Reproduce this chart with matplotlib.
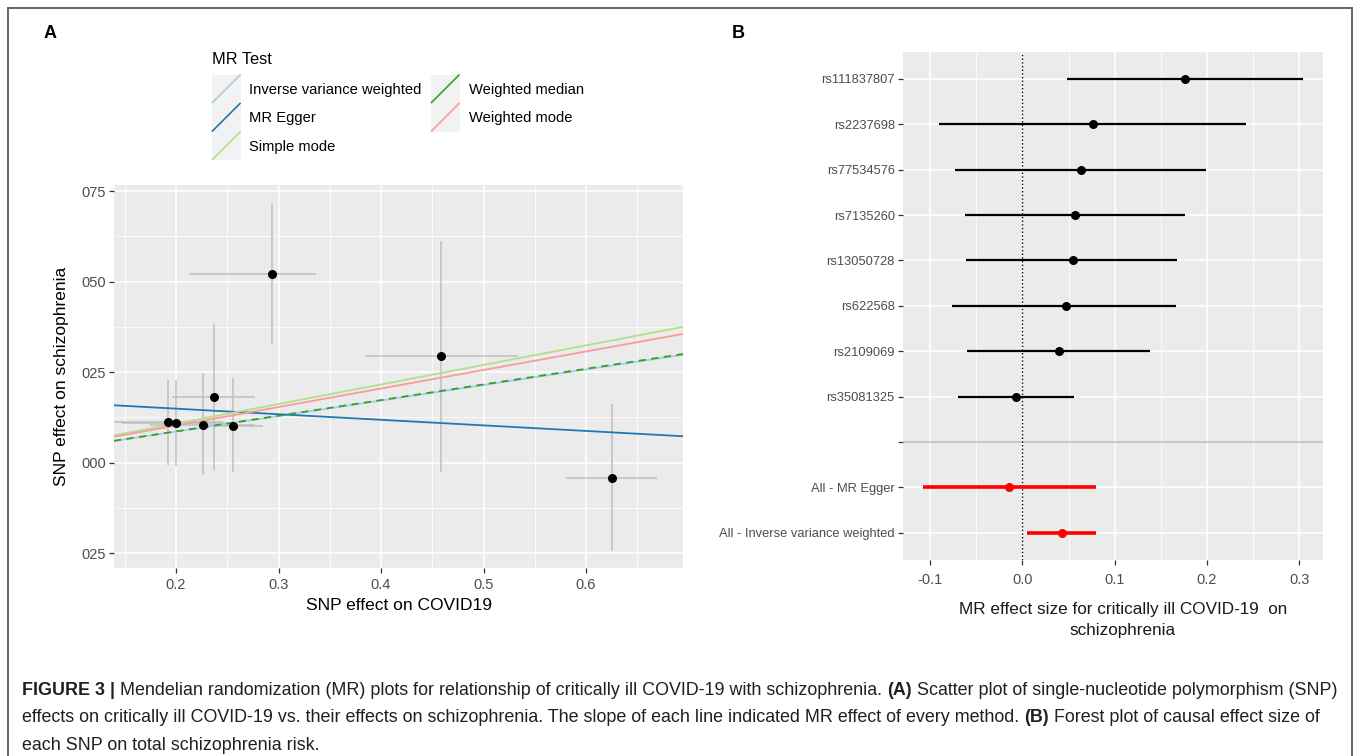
import numpy as np
import matplotlib
matplotlib.use("Agg")
import matplotlib.pyplot as plt
from matplotlib.patches import Rectangle
from matplotlib.ticker import MultipleLocator, FixedLocator

plt.rcParams['font.family'] = ['Liberation Sans', 'DejaVu Sans']

# ---- panel A: SNP effects ----
snp_x = [0.1925, 0.1997, 0.2263, 0.2371, 0.2559, 0.2940, 0.4588, 0.6257]
snp_y = [0.0111, 0.0109, 0.0104, 0.0182, 0.0100, 0.0520, 0.0294, -0.0042]
snp_x_lo = [0.139, 0.147, 0.175, 0.196, 0.227, 0.2128, 0.384, 0.580]
snp_x_hi = [0.246, 0.252, 0.277, 0.2766, 0.2846, 0.3363, 0.5337, 0.6696]
snp_y_lo = [-0.0006, -0.0008, -0.0033, -0.0019, -0.0027, 0.0329, -0.0027, -0.0243]
snp_y_hi = [0.0227, 0.0227, 0.0248, 0.0383, 0.0235, 0.0715, 0.0613, 0.0162]

methods = ['Inverse variance weighted', 'MR Egger', 'Simple mode',
           'Weighted median', 'Weighted mode']
method_slope = [0.0429, -0.0154, 0.0540, 0.0432, 0.0512]
method_icept = [0.0, 0.0180, 0.0, 0.0, 0.0]
method_col = ['#A6CEE3', '#1F78B4', '#B2DF8A', '#33A02C', '#FB9A99']

# ---- panel B: forest plot ----
snp_names = ['rs111837807', 'rs2237698', 'rs77534576', 'rs7135260',
             'rs13050728', 'rs622568', 'rs2109069', 'rs35081325']
snp_b = [0.1765, 0.0764, 0.0635, 0.0571, 0.0545, 0.0468, 0.0400, -0.0070]
snp_lo = [0.048, -0.090, -0.073, -0.062, -0.061, -0.076, -0.060, -0.070]
snp_hi = [0.304, 0.242, 0.199, 0.176, 0.168, 0.167, 0.138, 0.056]

all_names = ['All - MR Egger', 'All - Inverse variance weighted']
all_b = [-0.0146, 0.0429]
all_lo = [-0.108, 0.0047]
all_hi = [0.0794, 0.0794]

W, H = 1357, 756
fig = plt.figure(figsize=(W / 100, H / 100), dpi=100)


def px_axes(l, t, r, b):
    return fig.add_axes([l / W, 1 - b / H, (r - l) / W, (b - t) / H])


def gg_style(ax):
    ax.set_facecolor('#EBEBEB')
    for s in ax.spines.values():
        s.set_visible(False)
    ax.grid(which='major', color='white', lw=1.1)
    ax.grid(which='minor', color='white', lw=0.55)
    ax.set_axisbelow(True)
    ax.tick_params(which='major', length=3.5, width=0.9, color='#333333',
                   labelcolor='#4D4D4D', labelsize=10.5, pad=2)
    ax.tick_params(axis='x', which='major', pad=4)
    ax.tick_params(which='minor', length=0)


# ---------------- panel A ----------------
axA = px_axes(114, 185, 683, 568)
gg_style(axA)
axA.vlines(snp_x, snp_y_lo, snp_y_hi, color='#BEBEBE', lw=1.1, zorder=2)
axA.hlines(snp_y, snp_x_lo, snp_x_hi, color='#BEBEBE', lw=1.1, zorder=2)
axA.scatter(snp_x, snp_y, s=30, color='black', zorder=6)
for i, m in enumerate(methods):
    ls = (0, (4, 3)) if m == 'Weighted median' else '-'
    axA.axline((0, method_icept[i]), slope=method_slope[i], color=method_col[i],
               lw=1.3, ls=ls, zorder=3)

axA.set_xlim(0.1395, 0.6946)
axA.set_ylim(-0.0291, 0.0767)
axA.xaxis.set_major_locator(FixedLocator([0.2, 0.3, 0.4, 0.5, 0.6]))
axA.xaxis.set_minor_locator(MultipleLocator(0.05))
axA.set_xticklabels(['0.2', '0.3', '0.4', '0.5', '0.6'])
axA.yaxis.set_major_locator(FixedLocator([-0.025, 0.0, 0.025, 0.05, 0.075]))
axA.yaxis.set_minor_locator(MultipleLocator(0.0125))
axA.set_yticklabels(['025', '000', '025', '050', '075'])
axA.set_xlabel('SNP effect on COVID19', fontsize=12.5, labelpad=4)
axA.set_ylabel('SNP effect on schizophrenia', fontsize=12.5, labelpad=9)

# ---------------- panel B ----------------
axB = px_axes(902.5, 51.7, 1323, 560)
gg_style(axB)
labels = snp_names + [''] + all_names
n = len(labels)
ypos = np.arange(n)[::-1]
y_snp = ypos[:len(snp_names)]
y_blank = ypos[len(snp_names)]
y_all = ypos[len(snp_names) + 1:]

axB.axvline(0, color='black', ls=':', lw=1.0, zorder=2)
axB.axhline(y_blank, color='#BEBEBE', lw=1.2, zorder=1)
axB.hlines(y_snp, snp_lo, snp_hi, color='black', lw=1.6, zorder=3)
axB.scatter(snp_b, y_snp, s=30, color='black', zorder=4)
axB.hlines(y_all, all_lo, all_hi, color='red', lw=2.6, zorder=3)
axB.scatter(all_b, y_all, s=30, color='red', zorder=4)

axB.set_xlim(-0.130, 0.3258)
axB.set_ylim(-0.6, n - 1 + 0.6)
axB.xaxis.set_major_locator(FixedLocator([-0.1, 0.0, 0.1, 0.2, 0.3]))
axB.xaxis.set_minor_locator(MultipleLocator(0.05))
axB.set_xticklabels(['-0.1', '0.0', '0.1', '0.2', '0.3'])
axB.tick_params(axis='x', which='major', pad=6)
axB.set_yticks(ypos)
axB.set_yticklabels(labels, fontsize=9.3)

# ---------------- overlay (frame, letters, legend, caption) ----------------
ov = fig.add_axes([0, 0, 1, 1])
ov.set_xlim(0, W)
ov.set_ylim(H, 0)
ov.axis('off')

ov.plot([8, 8], [8, H], color='#666666', lw=1.4)
ov.plot([8, 1352], [8, 8], color='#666666', lw=1.4)
ov.plot([1352, 1352], [8, H], color='#666666', lw=1.4)

ov.text(50, 33, 'A', fontsize=13, fontweight='bold', ha='center', va='center')
ov.text(738, 33, 'B', fontsize=13, fontweight='bold', ha='center', va='center')

ov.text(1123, 620, 'MR effect size for critically ill COVID-19  on\nschizophrenia',
        fontsize=12.3, ha='center', va='center', linespacing=1.5, color='#1A1A1A')

# legend
ov.text(212, 60, 'MR Test', fontsize=11.8, ha='left', va='center')
key = 28.5
for i, m in enumerate(methods):
    col, row = (0, i) if i < 3 else (1, i - 3)
    kx = [212, 431][col]
    ky = 74.5 + key * row
    ov.add_patch(Rectangle((kx, ky), key, key, fc='#F2F2F2', ec='none'))
    ov.plot([kx + 0.5, kx + key - 0.5], [ky + key - 0.5, ky + 0.5],
            color=method_col[i], lw=1.2)
    ov.text([249, 469][col], ky + key / 2 + 1, m, fontsize=10.6, ha='left', va='center')

# caption with bold pieces
renderer = fig.canvas.get_renderer()
cap_size = 12.9


def text_w(s, bold):
    t = ov.text(0, 0, s, fontsize=cap_size, fontweight='bold' if bold else 'normal')
    w = t.get_window_extent(renderer).width
    t.remove()
    return w


space_w = {b: text_w('a a', b) - text_w('aa', b) for b in (False, True)}

caption = [
    [('FIGURE 3 |', True),
     ('Mendelian randomization (MR) plots for relationship of critically ill COVID-19 with schizophrenia.', False),
     ('(A)', True),
     ('Scatter plot of single-nucleotide polymorphism (SNP)', False)],
    [('effects on critically ill COVID-19 vs. their effects on schizophrenia. The slope of each line indicated MR effect of every method.', False),
     ('(B)', True),
     ('Forest plot of causal effect size of', False)],
    [('each SNP on total schizophrenia risk.', False)],
]
for li, parts in enumerate(caption):
    x = 22
    y = 695 + 27.5 * li
    for txt, bold in parts:
        t = ov.text(x, y, txt, fontsize=cap_size, fontweight='bold' if bold else 'normal',
                    ha='left', va='baseline', color='#231F20')
        x += t.get_window_extent(renderer).width + space_w[False]

fig.savefig('out.png', dpi=100)
